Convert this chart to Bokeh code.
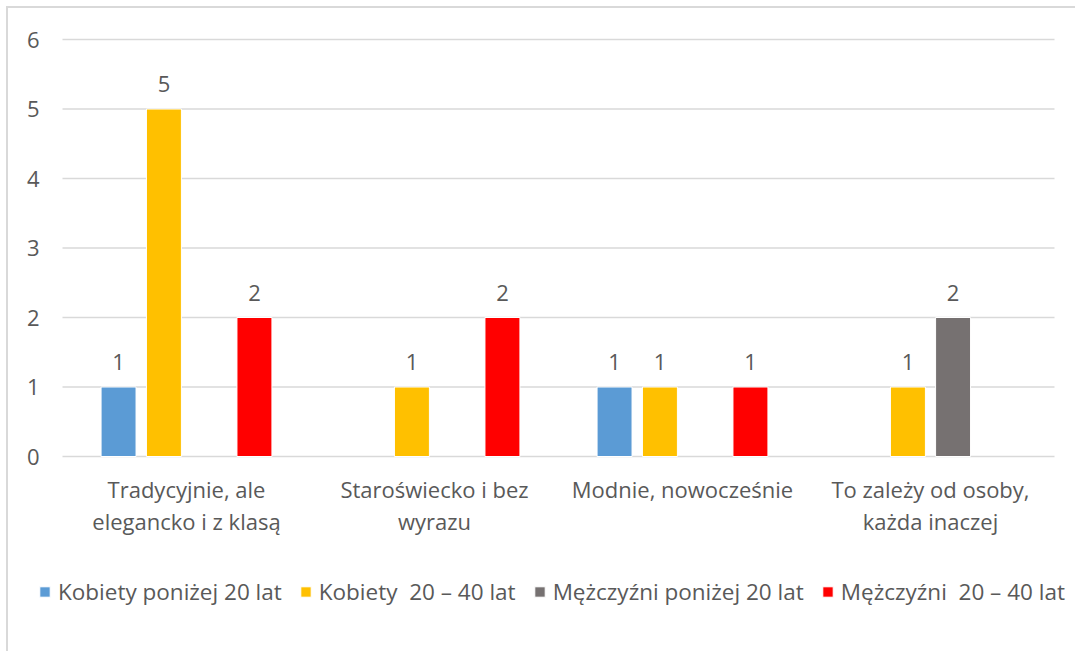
from bokeh.plotting import figure
from bokeh.models import ColumnDataSource, Legend, LegendItem, Range1d
from bokeh.core.properties import value
from bokeh.embed import file_html
from bokeh.resources import INLINE

categories = ["Tradycyjnie, ale\nelegancko i z klasą", "Staroświecko i bez\nwyrazu",
              "Modnie, nowocześnie", "To zależy od osoby,\nkażda inaczej"]
series_names = ["Kobiety poniżej 20 lat", "Kobiety  20 – 40 lat",
                "Mężczyźni poniżej 20 lat", "Mężczyźni  20 – 40 lat"]
kobiety_ponizej_20 = [1, 0, 1, 0]
kobiety_20_40 = [5, 1, 1, 1]
mezczyzni_ponizej_20 = [0, 0, 0, 2]
mezczyzni_20_40 = [2, 2, 1, 0]
y_ticks = [0, 1, 2, 3, 4, 5, 6]

series_values = [kobiety_ponizej_20, kobiety_20_40, mezczyzni_ponizej_20, mezczyzni_20_40]
colors = ["#5B9BD5", "#FFC000", "#767171", "#FF0000"]
offsets = [-0.274, -0.091, 0.091, 0.274]
FONT = "Open Sans"
FS = "22px"
TXT = "#595959"
GRID = "#D9D9D9"

W, H = 1069, 645
n = len(categories)
# plot area: 992 px for the categories starting 54 px in; 417 px for 0..6 starting 31 px down
xu = 992 / n
yu = 417 / (len(y_ticks) - 1)
x_range = Range1d(-54 / xu, n + (W - 54 - 992) / xu)
y_range = Range1d(-(H - 31 - 417) / yu, y_ticks[-1] + 31 / yu)

p = figure(x_range=x_range, y_range=y_range, width=W, height=H,
           output_backend="svg", toolbar_location=None,
           min_border=0, min_border_left=0, min_border_right=0,
           min_border_top=0, min_border_bottom=0)
p.outline_line_color = None
p.axis.visible = False
p.grid.visible = False
p.styles = {"margin-left": "6px", "margin-top": "6px",
            "border-left": "2px solid #D9D9D9", "border-top": "2px solid #D9D9D9"}

# gridlines and y tick labels
gsrc = ColumnDataSource(dict(x0=[0] * len(y_ticks), x1=[n] * len(y_ticks), y=y_ticks,
                             lab=[str(t) for t in y_ticks]))
p.segment(x0="x0", x1="x1", y0="y", y1="y", source=gsrc, line_color=GRID, line_width=1.5)
p.text(x="x0", y="y", text="lab", source=gsrc, text_align="right", text_baseline="middle",
       x_offset=-23, text_font=value(FONT), text_font_size=FS, text_color=TXT)

items = []
for name, vals, col, off in zip(series_names, series_values, colors, offsets):
    xs = [i + 0.5 + off for i, v in enumerate(vals) if v > 0]
    ys = [v for v in vals if v > 0]
    src = ColumnDataSource(dict(x=xs, y=ys, lab=[str(v) for v in ys]))
    r = p.vbar(x="x", top="y", bottom=0, width=0.141, source=src,
               fill_color=col, line_color="white", line_width=1)
    p.text(x="x", y="y", text="lab", source=src,
           text_align="center", text_baseline="bottom", y_offset=-17,
           text_font=value(FONT), text_font_size=FS, text_color=TXT)
    items.append(LegendItem(label=name, renderers=[r]))

# category labels under the zero line
cat_src = ColumnDataSource(dict(x=[i + 0.5 for i in range(n)], y=[0] * n, lab=categories))
p.text(x="x", y="y", text="lab", source=cat_src, text_align="center", text_baseline="top",
       y_offset=17, text_font=value(FONT), text_font_size=FS, text_color=TXT,
       text_line_height=1.07)

legend = Legend(items=items, orientation="horizontal", location=(30, 46),
                label_text_font=FONT, label_text_font_size="22.5px", label_text_color=TXT,
                glyph_width=13, glyph_height=13, label_standoff=7, spacing=17,
                border_line_color=None, background_fill_alpha=0, margin=0, padding=0)
p.add_layout(legend, "center")

open("out.html", "w").write(file_html(p, INLINE))
